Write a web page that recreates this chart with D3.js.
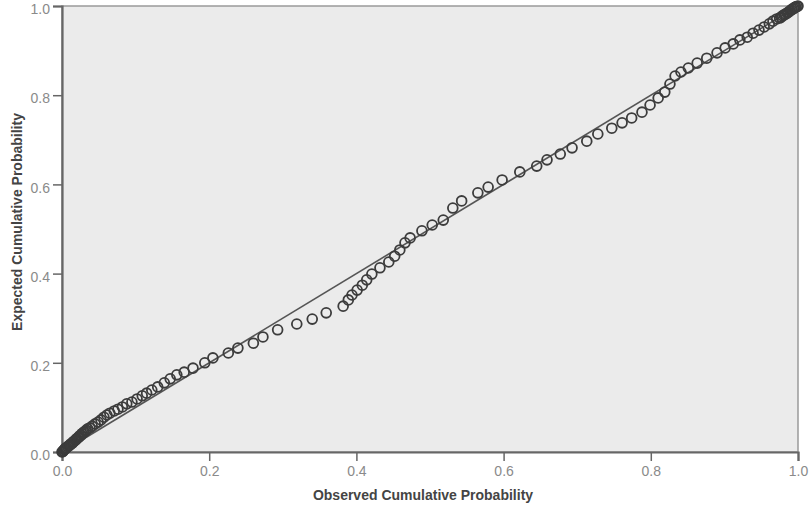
<!DOCTYPE html>
<html>
<head>
<meta charset="utf-8">
<script src="https://cdn.jsdelivr.net/npm/d3@7"></script>
<style>
  body { margin: 0; background: #fff; }
  svg { display: block; font-family: 'Liberation Sans', Arial, sans-serif; }
</style>
</head>
<body>
<svg id="chart" width="809" height="511"></svg>
<script>
// observed vs expected cumulative probability
const observed = [
  0.000,0.001,0.002,0.003,0.004,0.005,0.006,0.008,0.009,0.011,
  0.012,0.014,0.015,0.016,0.018,0.019,0.020,0.022,0.023,0.024,
  0.026,0.027,0.029,0.030,0.032,0.033,0.035,0.038,0.041,0.045,
  0.049,0.053,0.057,0.061,0.065,0.071,0.076,0.082,0.088,0.095,
  0.102,0.109,0.115,0.122,0.130,0.139,0.147,0.156,0.166,0.178,
  0.194,0.205,0.226,0.239,0.260,0.273,0.293,0.319,0.340,0.359,
  0.382,0.389,0.394,0.401,0.408,0.414,0.421,0.432,0.444,0.452,
  0.459,0.466,0.473,0.489,0.503,0.518,0.531,0.543,0.565,0.579,
  0.598,0.622,0.645,0.659,0.677,0.693,0.713,0.728,0.747,0.761,
  0.774,0.788,0.799,0.810,0.819,0.826,0.833,0.841,0.851,0.863,
  0.876,0.890,0.901,0.912,0.921,0.931,0.939,0.947,0.954,0.961,
  0.966,0.971,0.975,0.977,0.979,0.981,0.983,0.985,0.987,0.989,
  0.991,0.992,0.994,0.995,0.996,0.997,0.999,1.000
];
const expected = [
  0.000,0.001,0.003,0.005,0.007,0.008,0.010,0.012,0.014,0.016,
  0.018,0.020,0.022,0.024,0.026,0.028,0.030,0.032,0.034,0.036,
  0.038,0.041,0.043,0.045,0.047,0.049,0.052,0.054,0.058,0.063,
  0.067,0.072,0.078,0.083,0.087,0.092,0.096,0.101,0.108,0.112,
  0.119,0.126,0.132,0.139,0.146,0.155,0.164,0.173,0.179,0.188,
  0.200,0.211,0.222,0.233,0.244,0.258,0.274,0.287,0.298,0.312,
  0.327,0.341,0.352,0.363,0.374,0.386,0.399,0.413,0.426,0.439,
  0.453,0.469,0.480,0.496,0.509,0.520,0.547,0.563,0.581,0.594,
  0.610,0.628,0.641,0.655,0.668,0.682,0.697,0.713,0.726,0.738,
  0.749,0.762,0.778,0.794,0.807,0.825,0.843,0.852,0.861,0.872,
  0.883,0.895,0.906,0.915,0.924,0.930,0.939,0.946,0.953,0.960,
  0.966,0.971,0.973,0.975,0.978,0.980,0.982,0.984,0.986,0.989,
  0.991,0.993,0.994,0.996,0.997,0.998,0.999,1.000
];
const tickValues = [0, 0.2, 0.4, 0.6, 0.8, 1.0];
const refLine = [[0, 0], [1, 1]];

const margin = {top: 6, right: 11, bottom: 59, left: 62};
const svg = d3.select('#chart');
const W = +svg.attr('width'), H = +svg.attr('height');
const w = W - margin.left - margin.right;
const h = H - margin.top - margin.bottom;

const x = d3.scaleLinear().domain([0, 1]).range([0, w]);
const y = d3.scaleLinear().domain([0, 1]).range([h, 0]);

const g = svg.append('g')
  .attr('transform', `translate(${margin.left},${margin.top})`);

// plot background + light frame
g.append('rect')
  .attr('width', w)
  .attr('height', h)
  .attr('fill', '#ebebeb')
  .attr('stroke', '#9a9a9a')
  .attr('stroke-width', 1.5);

// axes
const fmt = d3.format('.1f');
const xAxis = g.append('g')
  .attr('transform', `translate(0,${h})`)
  .call(d3.axisBottom(x).tickValues(tickValues).tickFormat(fmt).tickSize(9).tickPadding(5));
const yAxis = g.append('g')
  .call(d3.axisLeft(y).tickValues(tickValues).tickFormat(fmt).tickSize(9).tickPadding(3));

[xAxis, yAxis].forEach(a => {
  a.select('.domain').attr('stroke', '#666').attr('stroke-width', 2.2);
  a.selectAll('.tick line').attr('stroke', '#666').attr('stroke-width', 1.5);
  a.selectAll('.tick text')
    .attr('fill', '#8a8a8a')
    .style('font-size', '14px')
    .style('font-family', "'Liberation Sans', Arial, sans-serif");
});
// y labels sit a little below their ticks, as in the original
yAxis.selectAll('.tick text').attr('dy', '0.55em');

// reference diagonal
g.append('path')
  .datum(refLine)
  .attr('d', d3.line().x(d => x(d[0])).y(d => y(d[1])))
  .attr('fill', 'none')
  .attr('stroke', '#555')
  .attr('stroke-width', 1.6);

// points
const pts = observed.map((o, i) => ({o: o, e: expected[i]}));
g.selectAll('circle.pt')
  .data(pts)
  .enter().append('circle')
  .attr('class', 'pt')
  .attr('cx', d => x(d.o))
  .attr('cy', d => y(d.e))
  .attr('r', 4.9)
  .attr('fill', 'none')
  .attr('stroke', '#3c3c3c')
  .attr('stroke-width', 1.8);

// axis titles
svg.append('text')
  .attr('x', margin.left + w / 2 - 7)
  .attr('y', 500)
  .attr('text-anchor', 'middle')
  .attr('fill', '#444')
  .style('font-size', '14px')
  .style('font-weight', 'bold')
  .text('Observed Cumulative Probability');

svg.append('text')
  .attr('transform', `translate(22,${margin.top + h / 2 - 7}) rotate(-90)`)
  .attr('text-anchor', 'middle')
  .attr('fill', '#444')
  .style('font-size', '14px')
  .style('font-weight', 'bold')
  .text('Expected Cumulative Probability');
</script>
</body>
</html>
